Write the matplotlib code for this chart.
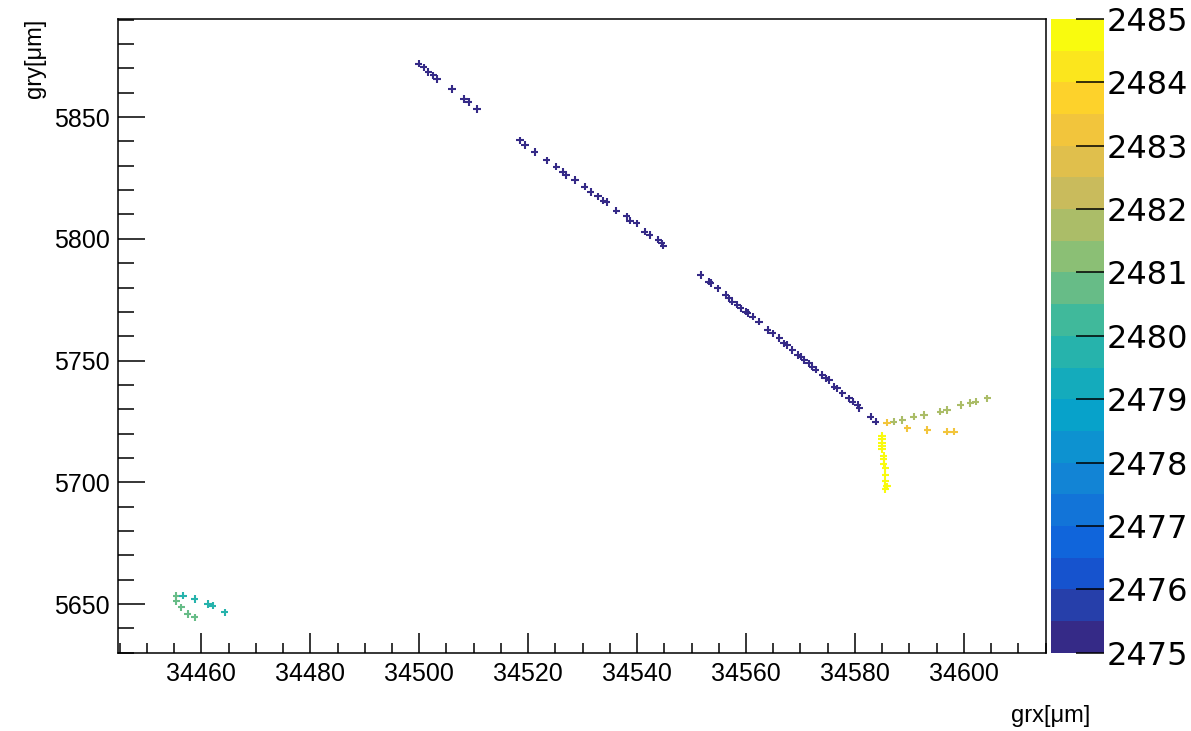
import numpy as np
import matplotlib
matplotlib.use("Agg")
import matplotlib.pyplot as plt
from matplotlib.colors import ListedColormap, BoundaryNorm, LinearSegmentedColormap
from matplotlib.ticker import MultipleLocator

plt.rcParams['font.family'] = ['Liberation Sans', 'DejaVu Sans']

# Traza principal (z ~ 2475)
grx_traza = [34499.9, 34500.8, 34501.7, 34502.6, 34503.3, 34506.0, 34508.2, 34509.1, 34510.6,
             34518.5, 34519.4, 34521.2, 34523.4, 34525.2, 34526.4, 34527.0, 34528.6, 34530.4,
             34531.5, 34532.8, 34533.8, 34534.4, 34536.2, 34538.1, 34538.7, 34539.9, 34541.4,
             34542.3, 34543.9, 34544.5, 34544.8,
             34551.7, 34553.2, 34553.5, 34554.8, 34556.3, 34556.9, 34557.5, 34558.4, 34559.0,
             34560.0, 34560.3, 34561.2, 34562.4, 34564.0, 34564.9, 34566.1, 34567.0, 34567.6,
             34568.5, 34569.5, 34570.1, 34570.7, 34571.6, 34572.2, 34572.8, 34574.0, 34574.7,
             34575.3, 34576.2, 34576.8, 34577.7, 34578.9, 34579.6, 34580.5, 34580.8, 34582.9,
             34583.8]
gry_traza = [5871.9, 5870.5, 5868.5, 5867.1, 5865.7, 5861.6, 5857.5, 5856.2, 5853.4,
             5840.5, 5838.5, 5835.7, 5832.3, 5829.6, 5827.5, 5826.2, 5824.1, 5821.4,
             5819.2, 5817.4, 5815.7, 5815.1, 5811.6, 5809.2, 5807.5, 5806.4, 5803.0,
             5801.6, 5799.6, 5798.2, 5797.2,
             5785.2, 5782.4, 5781.8, 5779.7, 5777.0, 5775.6, 5774.2, 5772.9, 5771.5,
             5770.1, 5769.5, 5768.1, 5766.0, 5762.6, 5761.2, 5759.2, 5757.1, 5756.4,
             5754.4, 5752.3, 5751.6, 5750.3, 5748.9, 5747.5, 5746.2, 5744.1, 5742.7,
             5742.0, 5739.3, 5738.6, 5736.6, 5734.5, 5733.1, 5731.8, 5730.4, 5727.0,
             5724.9]

# Rama superior (oliva)
grx_rama = [34587.1, 34588.7, 34590.8, 34592.7, 34595.7, 34596.9, 34599.4, 34601.2, 34602.2, 34604.3]
gry_rama = [5724.9, 5725.6, 5727.0, 5727.7, 5729.0, 5729.7, 5731.8, 5732.5, 5733.1, 5734.5]

# Rama inferior (naranja)
grx_naranja = [34585.9, 34589.6, 34593.3, 34596.9, 34598.2]
gry_naranja = [5724.5, 5722.2, 5721.5, 5720.8, 5720.8]

# Traza vertical (amarillo)
grx_vertical = [34585.0, 34585.0, 34585.0, 34585.0, 34585.0, 34585.3, 34585.3, 34585.3,
                34585.6, 34585.6, 34585.6, 34585.9, 34585.6]
gry_vertical = [5719.0, 5717.7, 5716.3, 5714.9, 5713.6, 5710.8, 5709.5, 5707.5,
                5705.9, 5703.1, 5700.4, 5698.4, 5697.1]

# Cumulo abajo a la izquierda
grx_verde = [34455.4, 34455.4, 34456.3, 34457.5, 34458.8]
gry_verde = [5653.4, 5651.2, 5648.6, 5645.9, 5644.5]
grx_turquesa = [34456.6, 34458.8, 34461.2, 34462.1, 34464.3]
gry_turquesa = [5653.4, 5652.1, 5650.0, 5649.3, 5646.6]

grupos = [
    (grx_traza, gry_traza, 2475.1),
    (grx_rama, gry_rama, 2481.7),
    (grx_naranja, gry_naranja, 2483.1),
    (grx_vertical, gry_vertical, 2484.8),
    (grx_verde, gry_verde, 2480.8),
    (grx_turquesa, gry_turquesa, 2479.8),
]

x = np.concatenate([np.array(g[0]) for g in grupos])
y = np.concatenate([np.array(g[1]) for g in grupos])
z = np.concatenate([np.full(len(g[0]), g[2]) for g in grupos])

# paleta kBird de ROOT, 20 contornos
stops = [0.0, 0.125, 0.25, 0.375, 0.5, 0.625, 0.75, 0.875, 1.0]
red = [0.2082, 0.0592, 0.0780, 0.0232, 0.1802, 0.5301, 0.8186, 0.9956, 0.9764]
green = [0.1664, 0.3599, 0.5041, 0.6419, 0.7178, 0.7492, 0.7328, 0.7862, 0.9832]
blue = [0.5293, 0.8684, 0.8385, 0.7914, 0.6425, 0.4662, 0.3499, 0.1968, 0.0539]
bird = LinearSegmentedColormap.from_list(
    'bird', [(s, (r, g, b)) for s, r, g, b in zip(stops, red, green, blue)])
ncont = 20
cmap = ListedColormap([bird(i / (ncont - 1)) for i in range(ncont)])
niveles = np.linspace(2475, 2485, ncont + 1)
norm = BoundaryNorm(niveles, cmap.N)

fig = plt.figure(figsize=(11.91, 7.31), dpi=100)
ax = fig.add_axes([0.0991, 0.1071, 0.7792, 0.8669])
cax = fig.add_axes([0.8825, 0.1071, 0.0445, 0.8669])

sc = ax.scatter(x, y, c=z, cmap=cmap, norm=norm, marker='+', s=28, linewidths=1.5)

ax.set_xlim(34444.7, 34615.1)
ax.set_ylim(5630.0, 5890.3)
ax.xaxis.set_major_locator(MultipleLocator(20))
ax.xaxis.set_minor_locator(MultipleLocator(5))
ax.yaxis.set_major_locator(MultipleLocator(50))
ax.yaxis.set_minor_locator(MultipleLocator(10))
ax.tick_params(axis='x', which='major', direction='in', length=14.4, width=1.1, labelsize=18, pad=7)
ax.tick_params(axis='x', which='minor', direction='in', length=7.2, width=1.1)
ax.tick_params(axis='y', which='major', direction='in', length=19.4, width=1.1, labelsize=18, pad=6)
ax.tick_params(axis='y', which='minor', direction='in', length=11.5, width=1.1)
for sp in ax.spines.values():
    sp.set_linewidth(1.1)

ax.text(-0.09, 1.0, 'gry[\u03bcm]', transform=ax.transAxes, rotation=90,
        ha='center', va='top', fontsize=17)
fig.text(0.915, 0.0205, 'grx[\u03bcm]', ha='right', va='center', fontsize=17)

cb = fig.colorbar(sc, cax=cax, ticks=np.arange(2475, 2486, 1))
cb.outline.set_visible(False)
cb.minorticks_off()
cax.tick_params(axis='y', direction='in', length=20, width=1.1, pad=2, right=True, left=False)
cax.set_yticklabels([str(v) for v in range(2475, 2486)], family='DejaVu Sans', fontsize=23)

fig.savefig('out.png', dpi=100)
